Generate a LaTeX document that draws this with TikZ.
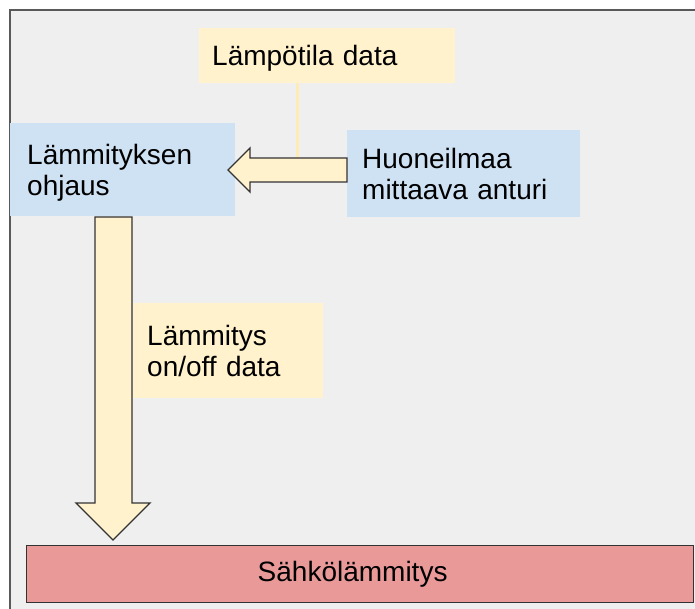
\documentclass[tikz,border=0pt]{standalone}
\usepackage{fontspec}
\setmainfont{Liberation Sans}
\usetikzlibrary{calc}
\definecolor{pagebg}{HTML}{EFEFEF}
\definecolor{framegray}{HTML}{595959}
\definecolor{datayellow}{HTML}{FFF2CC}
\definecolor{linkyellow}{HTML}{FFEBB5}
\definecolor{unitblue}{HTML}{CFE2F3}
\definecolor{heaterred}{HTML}{EA9999}
\definecolor{arrowgray}{HTML}{333333}
\tikzset{
    unitbox/.style={fill=unitblue, anchor=north west, align=left, inner ysep=0pt,
        font=\fontsize{28}{31}\selectfont},
    databox/.style={fill=datayellow, anchor=north west, align=left, inner ysep=0pt,
        font=\fontsize{28}{31}\selectfont},
    blockarrow/.style={fill=datayellow, draw=arrowgray, line width=1.4pt, line join=miter}
}
\begin{document}
\begin{tikzpicture}[x=1pt,y=-1pt]
                \clip (0,0) rectangle (695,609);
                \fill[white] (0,0) rectangle (695,609);
                \draw[fill=pagebg, draw=framegray, line width=1.5pt] (10,10) rectangle (720,640);
                \node[databox, minimum width=256, minimum height=55, text width=230, inner xsep=13, text depth=0pt] (tempdata) at (199,28) {Lämpötila data};
                \node[unitbox, minimum width=225, minimum height=93, text width=191, inner xsep=17, text depth=30pt] (control) at (10,123) {Lämmityksen\\ohjaus};
                \node[unitbox, minimum width=233, minimum height=87, text width=203, inner xsep=15] (sensor) at (347,130) {Huoneilmaa\\mittaava anturi};
                \node[databox, minimum width=190, minimum height=95, text width=162, inner xsep=14] (onoff) at (133,303) {Lämmitys\\on/off data};
                \node[draw=arrowgray, fill=heaterred, line width=1.4pt, minimum width=667, minimum height=57,
                    text width=205, inner xsep=231, align=left, anchor=north west,
                    font=\fontsize{28}{31}\selectfont] (heater) at (26,545) {Sähkölämmitys};
                \coordinate (sensorout) at (sensor.west |- 0,170);
                \coordinate (linkend) at (297,158);
                \coordinate (controlout) at (113,217);
                \draw[linkyellow, line width=3pt] (tempdata.south -| linkend) -- (linkend);
                \draw[blockarrow] (sensorout) ++(0,-12) -- ++(-97,0) -- ++(0,-10) -- ++(-22,22)
                    -- ++(22,22) -- ++(0,-10) -- ++(97,0) -- cycle;
                \draw[blockarrow] (controlout) ++(-18,0) -- ++(37,0) -- ++(0,286) -- ++(18,0)
                    -- ($(heater.north -| controlout) + (0,-5)$) -- ++(-37,-37) -- ++(19,0) -- cycle;
            \end{tikzpicture}
\end{document}
